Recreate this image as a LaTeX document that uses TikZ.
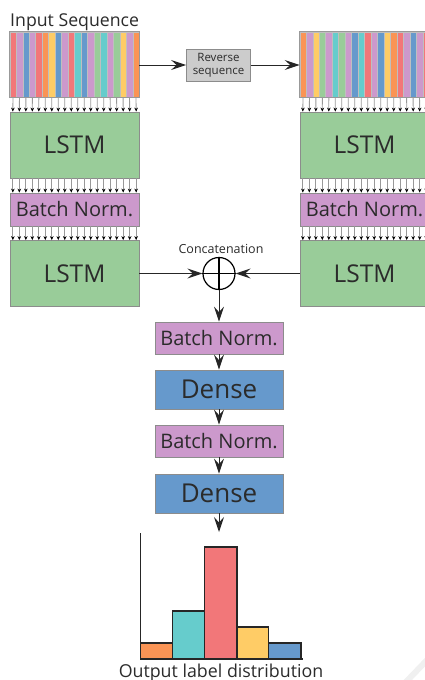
\documentclass[tikz,border=0pt]{standalone}
\usepackage{fontspec}
\setmainfont{Open Sans}
\usetikzlibrary{arrows.meta,calc}

\definecolor{cRed}{HTML}{F27779}
\definecolor{cPurple}{HTML}{CC99CC}
\definecolor{cBlue}{HTML}{6699CC}
\definecolor{cOrange}{HTML}{FA9455}
\definecolor{cYellow}{HTML}{FFCC66}
\definecolor{cTeal}{HTML}{66CCCC}
\definecolor{cGreen}{HTML}{99CC99}
\definecolor{cGrey}{HTML}{CCCCCC}
\definecolor{txt}{HTML}{2B2B2B}

\tikzset{
  blk/.style={draw=black!45, line width=0.8pt, inner sep=0pt, text=txt},
  lstm/.style={blk, fill=cGreen, minimum width=129pt, minimum height=66pt,
               font=\fontsize{24.5}{24.5}\selectfont},
  bnorm/.style={blk, fill=cPurple, minimum width=129pt, minimum height=33pt,
                font=\fontsize{20}{20}\selectfont},
  dense/.style={blk, fill=cBlue, minimum width=128pt, minimum height=39pt,
                font=\fontsize{26}{26}\selectfont},
  seqstrip/.style={draw=black!40, line width=0.6pt, minimum width=129pt,
                   minimum height=65pt, inner sep=0pt},
  flow/.style={draw=black!85, line width=1pt,
               -{Stealth[length=15pt,width=10pt,inset=5.5pt]}},
  tiny/.style={draw=black!40, line width=0.8pt,
               -{Stealth[length=4pt,width=3.6pt,color=black]}},
  bar/.style={draw=black!85, line width=1.2pt},
}

% fill a named strip node with vertical colour bands
\newcommand{\colourbands}[2]{%
  \foreach \c [count=\k from 0] in {#2} {
    \fill[\c, draw=black!25, line width=0.3pt]
      ($(#1.north west)!{\k/20}!(#1.north east)$) rectangle
      ($(#1.south west)!{(\k+1)/20}!(#1.south east)$);
  }
  \draw[black!40, line width=0.6pt] (#1.north west) rectangle (#1.south east);
}

% a row of 20 small arrows between two stacked nodes
\newcommand{\arrowrow}[2]{%
  \foreach \k in {0,...,19} {
    \draw[tiny] ($(#1.south west)!{(\k+0.5)/20}!(#1.south east)$) --
                ($(#2.north west)!{(\k+0.5)/20}!(#2.north east)$);
  }
}

\begin{document}
\begin{tikzpicture}[x=1pt, y=-1pt]
\useasboundingbox (0,0) rectangle (425,680);
\clip (0,0) rectangle (425,680);

% input sequences
\node[anchor=base west, text=txt, font=\fontsize{17.7}{17.7}\selectfont, inner sep=0pt]
  (title) at (10,26) {Input Sequence};
\node[seqstrip] (inL) at (74.5,64.5) {};
\node[seqstrip] (inR) at (364.5,64.5) {};
\colourbands{inL}{cRed,cPurple,cBlue,cPurple,cRed,cOrange,cYellow,cBlue,cPurple,cRed,cTeal,cBlue,cPurple,cGreen,cTeal,cPurple,cGreen,cYellow,cPurple,cOrange}
\colourbands{inR}{cOrange,cPurple,cYellow,cGreen,cPurple,cTeal,cGreen,cPurple,cBlue,cTeal,cRed,cPurple,cBlue,cYellow,cOrange,cRed,cPurple,cBlue,cPurple,cRed}

\node[blk, fill=cGrey, minimum width=64pt, minimum height=32pt, align=center,
      font=\fontsize{11.5}{13}\selectfont] (rev) at (218.5,65) {Reverse\\sequence};
\draw[flow] (inL.east |- rev.west) -- (rev.west);
\draw[flow] (rev.east) -- (inR.west |- rev.east);

% forward branch
\node[lstm]  (lstmL1) at (74.5,145) {LSTM};
\node[bnorm] (bnL)    at (74.5,209.5) {Batch Norm.};
\node[lstm]  (lstmL2) at (74.5,273.5) {LSTM};
% backward branch
\node[lstm]  (lstmR1) at (364.5,145) {LSTM};
\node[bnorm] (bnR)    at (364.5,209.5) {Batch Norm.};
\node[lstm]  (lstmR2) at (364.5,273.5) {LSTM};

\arrowrow{inL}{lstmL1}
\arrowrow{lstmL1}{bnL}
\arrowrow{bnL}{lstmL2}
\arrowrow{inR}{lstmR1}
\arrowrow{lstmR1}{bnR}
\arrowrow{bnR}{lstmR2}

% concatenation
\node[circle, draw=black, line width=1.2pt, minimum size=32pt, inner sep=0pt]
  (cat) at (219,273.5) {};
\draw[black, line width=1.2pt] (cat.north) -- (cat.south) (cat.west) -- (cat.east);
\node[anchor=base, text=txt, font=\fontsize{12.5}{12.5}\selectfont, inner sep=0pt]
  (catlbl) at (221,253) {Concatenation};
\draw[flow] (lstmL2.east) -- (cat.west);
\draw[flow] (lstmR2.west) -- (cat.east);

% merged head
\node[bnorm, minimum width=128pt, minimum height=32pt] (bn3) at (219,338) {Batch Norm.};
\node[dense] (dense1) at (219,389.5) {Dense};
\node[bnorm, minimum width=128pt, minimum height=32pt] (bn4) at (219,441) {Batch Norm.};
\node[dense] (dense2) at (219,493.5) {Dense};

\draw[flow] (cat.south) -- (bn3.north);
\draw[flow] (bn3.south) -- (dense1.north);
\draw[flow] (dense1.south) -- (bn4.north);
\draw[flow] (bn4.south) -- (dense2.north);
\coordinate (histtop) at (219,532);
\draw[flow] (dense2.south) -- (histtop);

% output histogram
\fill[bar, fill=cOrange] (140.7,643) rectangle (172.3,659);
\fill[bar, fill=cTeal]   (172.3,611) rectangle (204.2,659);
\fill[bar, fill=cRed]    (204.2,547) rectangle (237,659);
\fill[bar, fill=cYellow] (237,627)   rectangle (268.8,659);
\fill[bar, fill=cBlue]   (268.8,643) rectangle (301,659);
\draw[bar] (140.7,533) -- (140.7,659) -- (302.7,659);
\node[anchor=base, text=txt, font=\fontsize{17.8}{17.8}\selectfont, inner sep=0pt]
  (outlbl) at (221,677) {Output label distribution};

% soft corner shade
\draw[line width=6pt, black!6] (404,684) -- (429,658);
\end{tikzpicture}
\end{document}
